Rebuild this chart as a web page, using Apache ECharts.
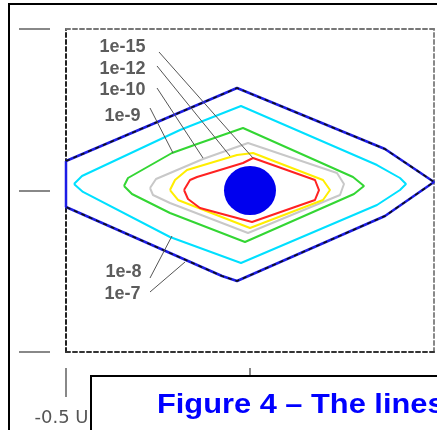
<!DOCTYPE html>
<html>
<head>
<meta charset="utf-8">
<script src="https://cdn.jsdelivr.net/npm/echarts@6/dist/echarts.min.js"></script>
<style>
  html, body { margin: 0; padding: 0; background: #fff; }
  #chart { width: 437px; height: 430px; }
</style>
</head>
<body>
<div id="chart"></div>
<script>
// Iso-level contours around the source, outermost first (x, y in U)
const levelNames = ['1e-7', '1e-8', '1e-9', '1e-10', '1e-12', '1e-15'];
const levelColors = ['#1c1ce6', '#00e0ff', '#33d633', '#c8c8c8', '#ffee00', '#ff2222'];

const level1e7 = [[-0.5, 0.0913], [-0.0353, 0.3173], [0.3668, 0.1285], [0.5, 0.0263], [0.3668, -0.0789],
  [-0.0353, -0.2802], [-0.0761, -0.2647], [-0.5, -0.0511]];
const level1e8 = [[-0.4783, 0.0201], [-0.4565, 0.0449], [-0.1902, 0.1873], [-0.0245, 0.2616], [0.3451, 0.0789],
  [0.4076, 0.0387], [0.4239, 0.0201], [0.4076, 0.0015], [0.3451, -0.0449], [-0.0245, -0.2245],
  [-0.2174, -0.1440], [-0.4538, -0.0046]];
const level1e9 = [[-0.3424, 0.0139], [-0.3315, 0.0387], [-0.2120, 0.1161], [-0.1359, 0.1471], [-0.0190, 0.1935],
  [0.2799, 0.0418], [0.3098, 0.0139], [0.2826, -0.0108], [-0.0136, -0.1594], [-0.2174, -0.0697],
  [-0.3207, -0.0108]];
const level1e10 = [[-0.2717, 0.0077], [-0.2554, 0.0356], [-0.1277, 0.0975], [-0.0054, 0.1471], [0.2364, 0.0542],
  [0.2554, 0.0201], [0.2446, -0.0139], [-0.0054, -0.1316], [-0.2174, -0.0387], [-0.2636, -0.0139]];
const level1e12 = [[-0.2174, 0.0015], [-0.2038, 0.0325], [-0.1712, 0.0635], [-0.0353, 0.1099], [0.0082, 0.1161],
  [0.1984, 0.0325], [0.2174, 0.0015], [0.1984, -0.0294], [0, -0.1161], [-0.1957, -0.0294]];
const level1e15 = [[-0.1793, 0.0015], [-0.1630, 0.0325], [-0.1440, 0.0418], [-0.0190, 0.0851], [0.0082, 0.1006],
  [0.1766, 0.0325], [0.1875, 0.0015], [0.1766, -0.0294], [0.0054, -0.0975], [-0.1359, -0.0542],
  [-0.1685, -0.0263]];
const levelShapes = [level1e7, level1e8, level1e9, level1e10, level1e12, level1e15];

// Source position
const sourcePoint = [0, 0];

// Level callouts: text anchor (right edge) and leader line from text to contour
const calloutNames = ['1e-15', '1e-12', '1e-10', '1e-9', '1e-8', '1e-7'];
const calloutAnchors = [[-0.2826, 0.4443], [-0.2826, 0.3762], [-0.2826, 0.3111], [-0.2962, 0.2307],
  [-0.2935, -0.2523], [-0.2962, -0.3204]];
const leaderStarts = [[-0.2473, 0.4288], [-0.2527, 0.3855], [-0.2527, 0.3173], [-0.2717, 0.2554],
  [-0.2717, -0.2709], [-0.2717, -0.3142]];
const leaderEnds = [[0.0082, 0.1006], [-0.0543, 0.1068], [-0.1277, 0.1006], [-0.2092, 0.1161],
  [-0.2120, -0.1409], [-0.1766, -0.2214]];

// Axis ticks
const xTickValues = [-0.5, 0];
const xLabelValues = [-0.5];
const xLabelTexts = ['-0.5 U'];
const yTickValues = [-0.5, 0, 0.5];

const FONT = '"Liberation Sans", Arial, sans-serif';
const chart = echarts.init(document.getElementById('chart'), null, { renderer: 'canvas' });

const boxLine = (color) => ({ show: true, onZero: false, lineStyle: { color, width: 2, type: [4, 3] } });
const bare = { axisTick: { show: false }, axisLabel: { show: false }, splitLine: { show: false } };

const series = [];
// outermost level: blue line with a black dashed trace along it
series.push({
  type: 'line', data: level1e7.concat([level1e7[0]]), symbol: 'none', silent: true,
  lineStyle: { color: levelColors[0], width: 2.5 }, z: 3
});
series.push({
  type: 'line', data: level1e7, symbol: 'none', silent: true,
  lineStyle: { color: '#111', width: 1.6, type: [4, 4] }, z: 4
});
levelShapes.slice(1).forEach((shape, i) => {
  series.push({
    type: 'line', data: shape.concat([shape[0]]), symbol: 'none', silent: true,
    lineStyle: { color: levelColors[i + 1], width: 2 }, z: 3
  });
});
series.push({
  type: 'scatter', data: [sourcePoint], symbol: 'circle', symbolSize: [52, 49], silent: true,
  itemStyle: { color: '#0000ee', opacity: 1 }, z: 5
});
leaderStarts.forEach((p, i) => {
  series.push({
    type: 'line', data: [p, leaderEnds[i]], symbol: 'none', silent: true,
    lineStyle: { color: '#555', width: 1 }, z: 6
  });
});
series.push({
  type: 'scatter', silent: true, symbolSize: 1, itemStyle: { color: 'rgba(0,0,0,0)' }, z: 7,
  data: calloutAnchors.map((p, i) => ({ value: p, name: calloutNames[i] })),
  label: {
    show: true, position: 'left', distance: 0, formatter: '{b}',
    color: '#333', fontSize: 18, fontWeight: 'bold', fontFamily: FONT
  }
});

chart.setOption({
  animation: false,
  backgroundColor: '#fff',
  grid: { left: 66, top: 29, width: 368, height: 323, containLabel: false },
  xAxis: [
    Object.assign({ type: 'value', min: -0.5, max: 0.5, position: 'bottom', axisLine: boxLine('#333') }, bare),
    Object.assign({ type: 'value', min: -0.5, max: 0.5, position: 'top', axisLine: boxLine('#777') }, bare),
    {
      type: 'value', min: -0.5, max: 0.5, interval: 0.5, position: 'bottom', offset: 16,
      axisLine: { show: false, onZero: false }, splitLine: { show: false },
      axisTick: { show: true, length: 29, customValues: xTickValues, lineStyle: { color: '#888', width: 2 } },
      axisLabel: {
        show: true, customValues: xLabelValues, margin: 41, color: '#555',
        fontSize: 18, fontFamily: '"DejaVu Sans", sans-serif', padding: [0, 9, 0, 0],
        formatter: (v) => { const k = xLabelValues.indexOf(v); return k >= 0 ? xLabelTexts[k] : ''; }
      }
    }
  ],
  yAxis: [
    Object.assign({ type: 'value', min: -0.5, max: 0.5, position: 'left', axisLine: boxLine('#222') }, bare),
    Object.assign({ type: 'value', min: -0.5, max: 0.5, position: 'right', axisLine: boxLine('#888') }, bare),
    {
      type: 'value', min: -0.5, max: 0.5, interval: 0.5, position: 'left', offset: 16,
      axisLine: { show: false, onZero: false }, splitLine: { show: false }, axisLabel: { show: false },
      axisTick: { show: true, length: 31, customValues: yTickValues, lineStyle: { color: '#888', width: 2 } }
    }
  ],
  series: series,
  graphic: [
    {
      type: 'rect', z: 100, silent: true,
      shape: { x: 9, y: 4, width: 500, height: 500 },
      style: { fill: null, stroke: '#000', lineWidth: 2 }
    },
    {
      type: 'rect', z: 101, silent: true,
      shape: { x: 91, y: 376, width: 400, height: 100 },
      style: { fill: '#fff', stroke: '#000', lineWidth: 2 }
    },
    {
      type: 'text', z: 102, silent: true, x: 157, y: 405, scaleX: 1.1,
      style: {
        text: 'Figure 4 – The lines', fill: '#0000ff',
        font: 'bold 28px "Liberation Sans", Arial, sans-serif', verticalAlign: 'middle', align: 'left'
      }
    }
  ]
});
</script>
</body>
</html>
